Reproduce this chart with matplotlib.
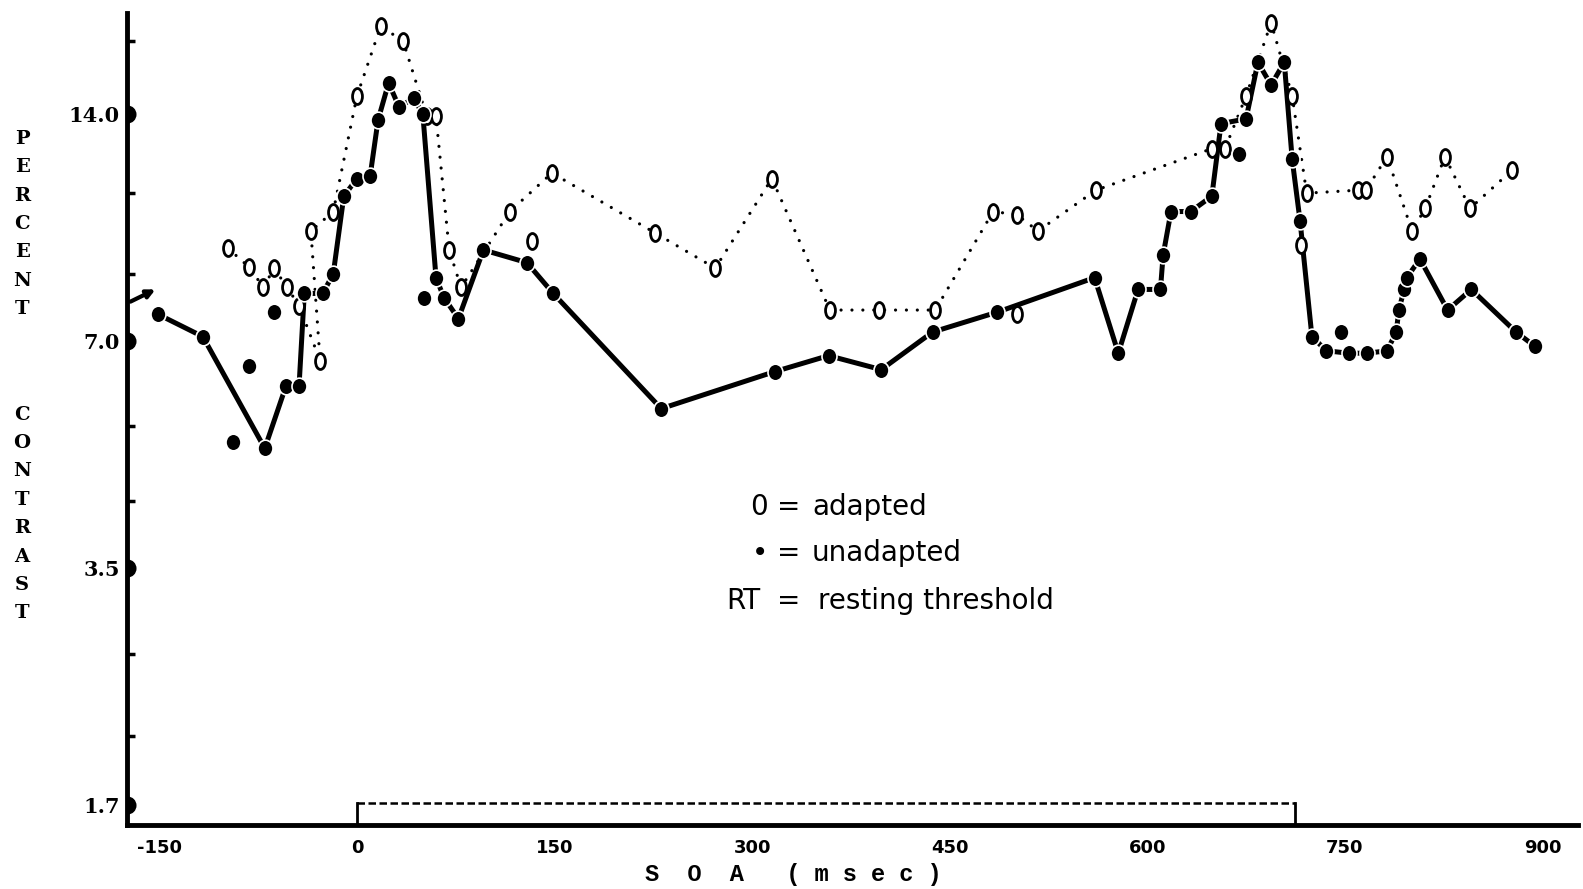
import numpy as np
import matplotlib.pyplot as plt
from matplotlib.path import Path
from matplotlib.transforms import Affine2D
from matplotlib.ticker import NullFormatter

# unadapted thresholds (filled dots), in the order the curve joins them
unadapted_soa = [-151, -117, -70, -54, -44, -40, -26, -18, -10, 0, 10, 16, 24, 32, 43, 50,
                 60, 66, 77, 96, 129, 149, 231, 317, 358, 398, 437, 486, 560, 578, 593,
                 610, 612, 618, 633, 649, 656, 675, 684, 694, 704, 710, 716, 725, 736,
                 753, 767, 782, 789, 791, 795, 797, 807, 828, 846, 880, 894]
unadapted_pct = [7.6, 7.1, 5.05, 6.1, 6.1, 8.1, 8.1, 8.6, 10.9, 11.5, 11.6, 13.75, 15.4, 14.3, 14.7, 14.0,
                 8.5, 8.0, 7.5, 9.25, 8.9, 8.1, 5.7, 6.38, 6.7, 6.42, 7.2, 7.65, 8.5, 6.75, 8.2,
                 8.2, 9.1, 10.4, 10.4, 10.9, 13.6, 13.8, 16.4, 15.3, 16.4, 12.2, 10.1, 7.1, 6.8,
                 6.75, 6.75, 6.8, 7.2, 7.7, 8.2, 8.5, 9.0, 7.7, 8.2, 7.2, 6.9]
# unadapted dots left off the curve
unadapted_extra_soa = [-94, -82, -63, 51, 670, 747]
unadapted_extra_pct = [5.15, 6.5, 7.65, 8.0, 12.4, 7.2]

# adapted thresholds (open circles), joined by the dotted curve
adapted_soa = [-98, -82, -71, -63, -53, -44, -28, -35, -18, 0, 18, 35, 53, 60, 70, 79,
               116, 148, 226, 272, 315, 359, 396, 439, 483, 501, 517, 561, 649, 659,
               675, 694, 710, 721, 760, 766, 782, 801, 811, 826, 845, 877]
adapted_pct = [9.3, 8.78, 8.25, 8.75, 8.25, 7.8, 6.6, 9.8, 10.4, 14.8, 18.3, 17.5, 13.9, 13.9, 9.25, 8.25,
               10.4, 11.7, 9.75, 8.75, 11.5, 7.7, 7.7, 7.7, 10.4, 10.3, 9.8, 11.1, 12.6, 12.6,
               14.8, 18.5, 14.8, 11.0, 11.1, 11.1, 12.3, 9.8, 10.5, 12.3, 10.5, 11.8]
adapted_extra_soa = [133, 501, 717]
adapted_extra_pct = [9.5, 7.6, 9.4]

# resting threshold arrow
rt_tail = (-172, 7.9)
rt_head = (-153, 8.2)

# stimulus bracket along the bottom
bracket_start, bracket_end, bracket_level = 0, 712, 1.71

x_ticks = [-150, 0, 150, 300, 450, 600, 750, 900]
x_labels = ['-150', '0', '150', '300', '450', '600', '750', '900']
y_ticks = [1.7, 3.5, 7.0, 14.0]
y_labels = ['1.7', '3.5', '7.0', '14.0']
y_minor = [2.1, 2.7, 4.3, 5.4, 8.6, 11.0, 17.5]

W, H = 1583, 889
fig = plt.figure(figsize=(W / 100, H / 100), dpi=100)
ax = fig.add_axes([127 / W, 64 / H, 1451 / W, 812 / H])
ax.set_yscale('log')
ax.set_xlim(-174.6, 927)
ax.set_ylim(1.60, 19.06)

for side in ['top', 'right']:
    ax.spines[side].set_visible(False)
for side in ['left', 'bottom']:
    ax.spines[side].set_linewidth(3.5)

open_mark = Path.unit_circle().transformed(Affine2D().scale(0.62, 1.0))
dot_mark = Path.unit_circle().transformed(Affine2D().scale(0.9, 1.0))

# adapted: dotted curve + open ovals
ax.plot(adapted_soa, adapted_pct, color='black', lw=2.3,
        linestyle=(0, (0.01, 3.4)), dash_capstyle='round', zorder=2)
ax.plot(adapted_soa + adapted_extra_soa, adapted_pct + adapted_extra_pct,
        ls='none', marker=open_mark, ms=11.5, mfc='white', mec='black', mew=2.0, zorder=4)

# unadapted: heavy curve + filled dots
ax.plot(unadapted_soa, unadapted_pct, color='black', lw=3.6, solid_capstyle='round', zorder=3)
ax.plot(unadapted_soa + unadapted_extra_soa, unadapted_pct + unadapted_extra_pct,
        ls='none', marker=dot_mark, ms=12, mfc='black', mec='white', mew=1.2, zorder=5)

ax.annotate('', xy=rt_head, xytext=rt_tail,
            arrowprops=dict(arrowstyle='-|>', lw=3, color='black', mutation_scale=12,
                            shrinkA=0, shrinkB=0))

# bracket: dotted top, solid ends
ax.plot([bracket_start, bracket_end], [bracket_level, bracket_level], color='black',
        lw=1.8, linestyle=(0, (3.0, 1.4)))
ax.plot([bracket_start, bracket_start], [1.60, bracket_level], color='black', lw=2)
ax.plot([bracket_end, bracket_end], [1.60, bracket_level], color='black', lw=2)

# axis ticks
ax.set_xticks(x_ticks)
ax.set_xticklabels(x_labels, fontfamily='DejaVu Sans', fontweight='bold', fontsize=13)
ax.tick_params(axis='x', length=0, pad=10)
ax.set_yticks(y_ticks)
ax.set_yticklabels(y_labels, fontfamily='DejaVu Serif', fontweight='bold', fontsize=15)
ax.set_yticks(y_minor, minor=True)
ax.yaxis.set_minor_formatter(NullFormatter())
ax.tick_params(axis='y', which='major', length=0, pad=5)
ax.tick_params(axis='y', which='minor', direction='in', length=6, width=2.5)
ax.plot([ax.get_xlim()[0]] * len(y_ticks), y_ticks, ls='none', marker='o', ms=13,
        fillstyle='right', markerfacecoloralt='none', mew=0, color='black',
        clip_on=False, zorder=6)


def ftext(px, py, s, **kw):
    fig.text(px / W, 1 - py / H, s, **kw)


# vertical axis title, one letter per line
ftext(22, 224, '\n'.join('PERCENT'), ha='center', va='center', fontfamily='DejaVu Serif',
      fontweight='bold', fontsize=14, linespacing=1.74)
ftext(22, 514, '\n'.join('CONTRAST'), ha='center', va='center', fontfamily='DejaVu Serif',
      fontweight='bold', fontsize=14, linespacing=1.74)
ftext(793, 875, 'S  O  A   ( m s e c )', ha='center', va='center',
      fontfamily='Liberation Mono', fontweight='bold', fontsize=17)

# key
key_font = dict(fontfamily='DejaVu Sans', fontsize=20, va='center')
ftext(768, 507, '0', ha='right', **key_font)
ftext(789, 507, '=', ha='center', **key_font)
ftext(812, 507, 'adapted', ha='left', **key_font)
ftext(768, 553, '\u2022', ha='right', **key_font)
ftext(789, 553, '=', ha='center', **key_font)
ftext(812, 553, 'unadapted', ha='left', **key_font)
ftext(760, 601, 'RT', ha='right', **key_font)
ftext(789, 601, '=', ha='center', **key_font)
ftext(818, 601, 'resting threshold', ha='left', **key_font)

fig.savefig('out.png', dpi=100)
